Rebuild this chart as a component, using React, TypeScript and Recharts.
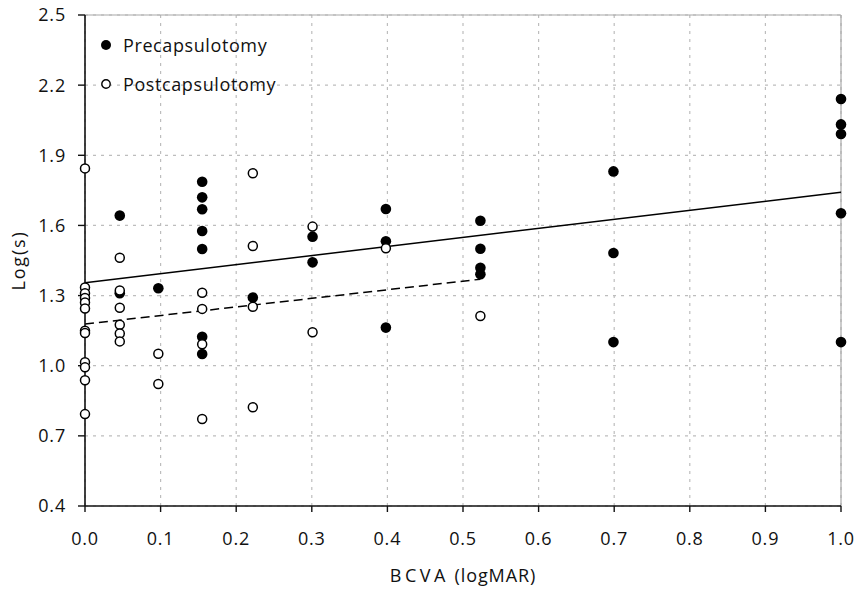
import React from 'react';
import {
  ScatterChart,
  Scatter,
  XAxis,
  YAxis,
  CartesianGrid,
  ReferenceLine,
  Legend,
} from 'recharts';

// ---- data ----
const xTicks = [0, 0.1, 0.2, 0.3, 0.4, 0.5, 0.6, 0.7, 0.8, 0.9, 1.0];
const yTicks = [0.4, 0.7, 1.0, 1.3, 1.6, 1.9, 2.2, 2.5];

const preX = [
  0.046, 0.046,
  0.097,
  0.155, 0.155, 0.155, 0.155, 0.155, 0.155, 0.155,
  0.222,
  0.301, 0.301,
  0.398, 0.398, 0.398,
  0.523, 0.523, 0.523, 0.523,
  0.699, 0.699, 0.699,
  1.0, 1.0, 1.0, 1.0, 1.0,
];
const preY = [
  1.642, 1.31,
  1.331,
  1.787, 1.72, 1.669, 1.576, 1.499, 1.124, 1.05,
  1.292,
  1.552, 1.442,
  1.67, 1.532, 1.163,
  1.62, 1.5, 1.419, 1.391,
  1.831, 1.482, 1.101,
  2.141, 2.032, 1.991, 1.652, 1.101,
];

const postX = [
  0, 0, 0, 0, 0, 0, 0, 0, 0, 0, 0, 0,
  0.046, 0.046, 0.046, 0.046, 0.046, 0.046,
  0.097, 0.097,
  0.155, 0.155, 0.155, 0.155,
  0.222, 0.222, 0.222, 0.222,
  0.301, 0.301,
  0.398,
  0.523,
];
const postY = [
  1.844, 1.335, 1.31, 1.29, 1.27, 1.245, 1.15, 1.14, 1.015, 0.993, 0.938, 0.793,
  1.462, 1.322, 1.248, 1.175, 1.138, 1.104,
  1.051, 0.922,
  1.312, 1.243, 1.092, 0.772,
  1.823, 1.512, 1.252, 0.822,
  1.595, 1.143,
  1.502,
  1.213,
];

// regression line end points [x, y]
const preFitX = [0, 1.0];
const preFitY = [1.355, 1.742];
const postFitX = [0, 0.523];
const postFitY = [1.178, 1.37];

const seriesNames = ['Precapsulotomy', 'Postcapsulotomy'];

const preData = preX.map((x, i) => ({ x, y: preY[i] }));
const postData = postX.map((x, i) => ({ x, y: postY[i] }));
const preFit = preFitX.map((x, i) => ({ x, y: preFitY[i] }));
const postFit = postFitX.map((x, i) => ({ x, y: postFitY[i] }));

const FONT = '"Open Sans", sans-serif';
const TEXT = '#111';

const FilledDot = (p: any) => (
  <circle cx={p.cx} cy={p.cy} r={5.3} fill="#000" />
);
const OpenDot = (p: any) => (
  <circle cx={p.cx} cy={p.cy} r={4.5} fill="#fff" stroke="#000" strokeWidth={1.5} />
);

const LegendContent = () => (
  <div style={{ fontFamily: FONT, fontSize: 18, color: TEXT, letterSpacing: 0.6 }}>
    {seriesNames.map((name, i) => (
      <div key={name} style={{ display: 'flex', alignItems: 'center', height: 39 }}>
        <svg width={12} height={12} style={{ marginRight: 11 }}>
          {i === 0 ? (
            <circle cx={6} cy={6} r={5} fill="#000" />
          ) : (
            <circle cx={6} cy={6} r={4.2} fill="#fff" stroke="#000" strokeWidth={1.4} />
          )}
        </svg>
        <span>{name}</span>
      </div>
    ))}
  </div>
);

const XTitle = (props: any) => {
  const vb = props.viewBox || {};
  const cx = vb.x + vb.width / 2;
  return (
    <text
      x={cx}
      y={575}
      textAnchor="middle"
      dominantBaseline="central"
      fontFamily={FONT}
      fontSize={18}
      fill={TEXT}
    >
      <tspan letterSpacing={3.5}>BCVA</tspan>
      <tspan letterSpacing={0.9}> (logMAR)</tspan>
    </text>
  );
};

const YTitle = (props: any) => {
  const vb = props.viewBox || {};
  const cy = vb.y + vb.height / 2;
  const cx = 18;
  return (
    <text
      x={cx}
      y={cy}
      textAnchor="middle"
      dominantBaseline="central"
      transform={`rotate(-90, ${cx}, ${cy})`}
      fontFamily={FONT}
      fontSize={18}
      fill={TEXT}
      letterSpacing={1.8}
    >
      Log(s)
    </text>
  );
};

export default function App() {
  return (
    <div style={{ width: 859, height: 589, overflow: 'hidden' }}>
      <style>{`html,body{margin:0;padding:0;overflow:hidden;}`}</style>
      <ScatterChart
        width={859}
        height={589}
        margin={{ top: 15, right: 18, bottom: 0, left: 25 }}
      >
        <CartesianGrid stroke="#bdbdbd" strokeWidth={1.2} strokeDasharray="3 5" />
        <ReferenceLine y={2.5} stroke="#a8a8a8" strokeWidth={1.2} />
        <ReferenceLine x={1.0} stroke="#a8a8a8" strokeWidth={1.2} />
        <XAxis
          type="number"
          dataKey="x"
          domain={[0, 1]}
          ticks={xTicks}
          interval={0}
          tickFormatter={(v: number) => v.toFixed(1)}
          height={83}
          tickSize={6}
          tickMargin={20}
          axisLine={{ stroke: '#111', strokeWidth: 1.6 }}
          tickLine={{ stroke: '#111', strokeWidth: 1.4 }}
          tick={{ fontFamily: FONT, fontSize: 18, fill: TEXT, letterSpacing: 0.8 }}
          label={<XTitle />}
        />
        <YAxis
          type="number"
          dataKey="y"
          domain={[0.4, 2.5]}
          ticks={yTicks}
          interval={0}
          tickFormatter={(v: number) => v.toFixed(1)}
          width={60}
          tickSize={7}
          tickMargin={12}
          axisLine={{ stroke: '#111', strokeWidth: 1.6 }}
          tickLine={{ stroke: '#111', strokeWidth: 1.4 }}
          tick={{ fontFamily: FONT, fontSize: 18, fill: TEXT, letterSpacing: 0.8 }}
          label={<YTitle />}
        />
        <Legend
          layout="vertical"
          align="center"
          verticalAlign="middle"
          content={<LegendContent />}
          wrapperStyle={{ top: 25, left: 100, width: 'auto', height: 'auto' }}
        />
        <Scatter
          name={seriesNames[0]}
          data={preData}
          shape={<FilledDot />}
          isAnimationActive={false}
        />
        <Scatter
          name={seriesNames[1]}
          data={postData}
          shape={<OpenDot />}
          isAnimationActive={false}
        />
        <ReferenceLine
          segment={preFit}
          stroke="#000"
          strokeWidth={1.5}
          ifOverflow="extendDomain"
        />
        <ReferenceLine
          segment={postFit}
          stroke="#000"
          strokeWidth={1.5}
          strokeDasharray="9 5"
          ifOverflow="extendDomain"
        />
      </ScatterChart>
    </div>
  );
}
